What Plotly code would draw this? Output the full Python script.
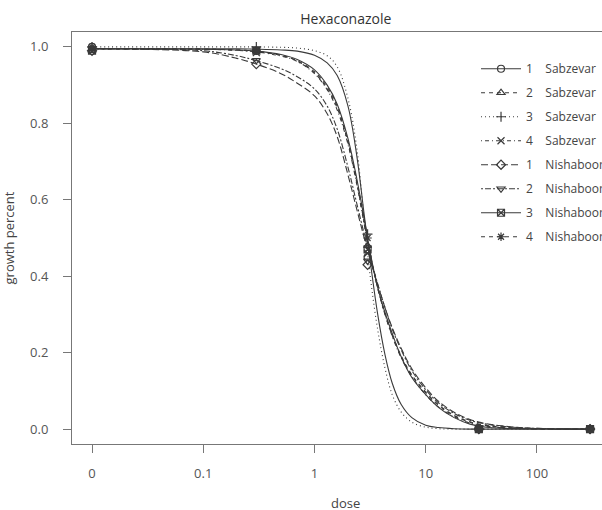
import plotly.graph_objects as go

# dose 0 is drawn one decade left of 0.1 on the log axis (drc style)
ZERO_POS = 0.01

names = ["1 Sabzevar", "2 Sabzevar", "3 Sabzevar", "4 Sabzevar",
         "1 Nishaboor", "2 Nishaboor", "3 Nishaboor", "4 Nishaboor"]

# observed means
obs_dose = [0, 0.3, 3, 30, 300]
obs_1_sab = [1.0, 0.99, 0.45, 0.0, 0.0]
obs_2_sab = [0.99, 0.99, 0.48, 0.0, 0.0]
obs_3_sab = [1.0, 1.0, 0.51, 0.0, 0.0]
obs_4_sab = [0.995, 0.985, 0.46, 0.0, 0.0]
obs_1_nis = [0.99, 0.955, 0.43, 0.0, 0.0]
obs_2_nis = [0.995, 0.965, 0.44, 0.0, 0.0]
obs_3_nis = [0.99, 0.99, 0.47, 0.0, 0.0]
obs_4_nis = [1.0, 0.99, 0.50, 0.0, 0.0]

# fitted curves
curve_dose = [0, 0.1, 0.2, 0.3, 0.5, 0.7, 1, 1.3, 1.6, 2, 2.4, 2.8, 3.2, 3.7,
              4.3, 5, 6, 7.5, 10, 13, 18, 25, 35, 50, 80, 150, 300]
fit_1_sab = [0.995, 0.995, 0.995, 0.994, 0.992, 0.989, 0.978, 0.958, 0.925, 0.845,
             0.715, 0.56, 0.43, 0.30, 0.195, 0.12, 0.065, 0.03, 0.01, 0.004,
             0.001, 0, 0, 0, 0, 0, 0]
fit_2_sab = [0.995, 0.994, 0.992, 0.988, 0.978, 0.963, 0.932, 0.89, 0.84, 0.75,
             0.645, 0.54, 0.45, 0.37, 0.30, 0.245, 0.19, 0.14, 0.095, 0.062,
             0.035, 0.018, 0.009, 0.004, 0.001, 0, 0]
fit_3_sab = [1.0, 1.0, 1.0, 1.0, 0.999, 0.997, 0.99, 0.977, 0.948, 0.865,
             0.735, 0.545, 0.39, 0.26, 0.16, 0.09, 0.045, 0.018, 0.005, 0.001,
             0, 0, 0, 0, 0, 0, 0]
fit_4_sab = [0.995, 0.994, 0.991, 0.987, 0.976, 0.962, 0.93, 0.888, 0.835, 0.745,
             0.64, 0.535, 0.447, 0.368, 0.30, 0.243, 0.187, 0.137, 0.09, 0.058,
             0.032, 0.016, 0.008, 0.003, 0.001, 0, 0]
fit_1_nis = [0.995, 0.987, 0.97, 0.955, 0.93, 0.905, 0.872, 0.825, 0.765, 0.665,
             0.575, 0.50, 0.44, 0.378, 0.318, 0.265, 0.212, 0.158, 0.108, 0.073,
             0.044, 0.025, 0.014, 0.008, 0.003, 0.001, 0]
fit_2_nis = [0.995, 0.99, 0.977, 0.964, 0.943, 0.922, 0.89, 0.845, 0.785, 0.685,
             0.59, 0.51, 0.445, 0.38, 0.318, 0.262, 0.208, 0.153, 0.103, 0.069,
             0.041, 0.023, 0.013, 0.007, 0.003, 0.001, 0]
fit_3_nis = [0.995, 0.994, 0.992, 0.989, 0.98, 0.967, 0.94, 0.90, 0.85, 0.76,
             0.655, 0.55, 0.455, 0.37, 0.305, 0.25, 0.19, 0.135, 0.09, 0.057,
             0.03, 0.013, 0.005, 0.002, 0.001, 0, 0]
fit_4_nis = [0.995, 0.994, 0.992, 0.988, 0.978, 0.964, 0.935, 0.895, 0.845, 0.752,
             0.648, 0.545, 0.452, 0.372, 0.303, 0.247, 0.192, 0.142, 0.097, 0.064,
             0.036, 0.019, 0.01, 0.005, 0.002, 0, 0]

obs_all = [obs_1_sab, obs_2_sab, obs_3_sab, obs_4_sab,
           obs_1_nis, obs_2_nis, obs_3_nis, obs_4_nis]
fit_all = [fit_1_sab, fit_2_sab, fit_3_sab, fit_4_sab,
           fit_1_nis, fit_2_nis, fit_3_nis, fit_4_nis]

# R lty 1..6 then 1,2 again; pch 1..8
dashes = ["solid", "4px,4px", "1px,3px", "1px,3px,4px,3px",
          "7px,3px", "2px,2px,6px,2px", "solid", "4px,4px"]
symbols = ["circle-open", "triangle-up-open", "cross-thin-open", "x-thin-open",
           "diamond-open", "triangle-down-open", "square-x-open", "asterisk-open"]

INK = "#3a3a3a"

# the original plot region runs past the right edge of the picture,
# so the figure is drawn wider than the window and the rest is clipped
FIG_W = 650


def to_plot_x(doses):
    return [d if d > 0 else ZERO_POS for d in doses]


fig = go.Figure()

for i, name in enumerate(names):
    line = dict(color=INK, width=1.1, dash=dashes[i])
    marker = dict(symbol=symbols[i], size=7, color=INK, line=dict(color=INK, width=1.2))
    fig.add_trace(go.Scatter(x=to_plot_x(curve_dose), y=fit_all[i], mode="lines",
                             line_shape="spline", line=line, showlegend=False,
                             hoverinfo="skip"))
    fig.add_trace(go.Scatter(x=to_plot_x(obs_dose), y=obs_all[i], mode="markers",
                             marker=marker, showlegend=False, name=name))
    num, place = name.split(" ")
    label = num + "\u00a0\u00a0\u00a0\u00a0" + place
    fig.add_trace(go.Scatter(x=[None], y=[None], mode="lines+markers", line=line,
                             marker=marker, name=label, legendgroup=name))

fig.add_annotation(text="dose", xref="paper", yref="paper", x=0.474, y=-0.143,
                   xanchor="center", yanchor="middle", showarrow=False,
                   font=dict(size=13, color="#444"))

fig.update_layout(
    width=FIG_W, height=510, autosize=False,
    margin=dict(l=72, r=0, t=32, b=66),
    paper_bgcolor="white", plot_bgcolor="white",
    font=dict(family="Open Sans, Liberation Sans, sans-serif", size=13, color="#555"),
    title=dict(text="Hexaconazole", x=0.532, xanchor="center", y=0.963, yanchor="middle",
               font=dict(size=14, color="#333")),
    legend=dict(x=0.699, y=0.946, xanchor="left", yanchor="top",
                bgcolor="rgba(255,255,255,0)", font=dict(size=12, color="#444"),
                tracegroupgap=5, itemwidth=40),
    xaxis=dict(type="log", range=[-2.18, 3.016],
               tickvals=[0.01, 0.1, 1, 10, 100],
               ticktext=["0", "0.1", "1", "10", "100"],
               showgrid=False, zeroline=False,
               showline=True, linecolor="#777", linewidth=1, mirror=True,
               ticks="outside", ticklen=8, tickcolor="#777",
               ticklabelstandoff=9),
    yaxis=dict(range=[-0.039, 1.039],
               tickvals=[0, 0.2, 0.4, 0.6, 0.8, 1.0], tickformat=".1f",
               showgrid=False, zeroline=False,
               showline=True, linecolor="#777", linewidth=1,
               ticks="outside", ticklen=8, tickcolor="#777",
               ticklabelstandoff=12,
               title=dict(text="growth percent", standoff=12,
                          font=dict(size=13, color="#444"))),
)

fig.write_html("out.html", config={"displayModeBar": False, "responsive": False},
               post_script="document.body.style.margin='0px';"
                           "document.body.style.overflow='hidden';")
